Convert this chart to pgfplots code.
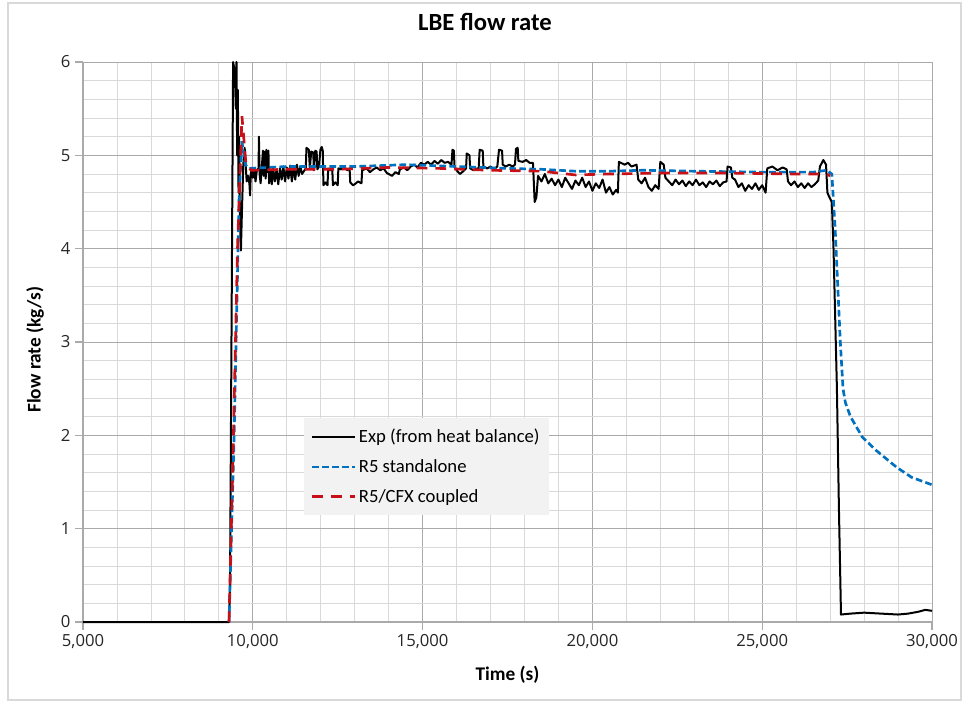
\documentclass[border=0pt]{standalone}
\usepackage{fontspec}
\setmainfont{Carlito}
\newfontfamily\tickfont{Open Sans}
\usepackage{pgfplots}
\pgfplotsset{compat=1.18}
\definecolor{r5blue}{RGB}{0,112,192}
\definecolor{cfxred}{RGB}{200,16,24}
\definecolor{majgrid}{RGB}{170,170,170}
\definecolor{mingrid}{RGB}{217,217,217}
\definecolor{legfill}{RGB}{242,242,242}
\begin{document}
\begin{tikzpicture}
\begin{axis}[
  scale only axis, width=636.75pt, height=420pt,
  xmin=5000, xmax=30000, ymin=0, ymax=6,
  xtick={5000,10000,15000,20000,25000,30000},
  ytick={0,1,2,3,4,5,6},
  minor x tick num=4, minor y tick num=4,
  grid=both,
  major grid style={majgrid, line width=0.6pt},
  minor grid style={mingrid, line width=0.6pt},
  axis x line*=bottom, axis y line*=left,
  axis line style={majgrid, line width=0.8pt, -},
  tick align=outside,
  major tick length=6pt, minor tick length=0pt,
  tick style={majgrid, line width=0.8pt},
  scaled x ticks=false,
  /pgf/number format/.cd, 1000 sep={,}, assume math mode=true,
  /pgfplots/.cd,
  ticklabel style={font=\tickfont\fontsize{12.5}{15}\selectfont, text=black!85},
  xlabel={Time (s)}, ylabel={Flow rate (kg/s)},
  label style={font=\bfseries\fontsize{14.5}{17}\selectfont},
  xlabel style={at={(axis description cs:0.5,-0.0946)}, anchor=center},
  ylabel style={at={(axis description cs:-0.0565,0.486)}, anchor=center, rotate=0},
  title={LBE flow rate},
  title style={font=\bfseries\fontsize{18.5}{21}\selectfont, at={(axis description cs:0.4735,1.057)}, anchor=center},
  clip=false,
  legend cell align=left,
  legend style={at={(axis description cs:0.2603,0.364)}, anchor=north west,
    fill=legfill, draw=none, font=\fontsize{14}{17}\selectfont,
    inner xsep=5pt, inner ysep=6pt, row sep=7pt},
]
\addplot[black, line width=1.5pt, line join=round,
  legend image code/.code={\draw[black, line width=0.9pt] (0pt,0pt) -- (32pt,0pt);}] coordinates {
(5000,0) (9300,0) (9330,0.4) (9420,6.0) (9470,5.9) (9500,5.5) (9520,6.0) (9540,5.0) (9560,5.7)
(9580,4.6) (9600,5.2) (9620,4.3) (9650,3.98) (9680,4.4) (9720,4.9) (9760,5.08) (9790,4.9)
(9820,4.72) (9860,4.78) (9900,4.7) (9920,4.57) (9940,4.8) (9960,4.85) (10000,4.76) (10040,4.86)
(10080,4.72) (10120,4.84) (10170,4.86) (10180,5.2) (10200,4.8) (10230,4.7) (10260,4.85)
(10300,5.05) (10320,4.78) (10350,5.04) (10380,4.75) (10400,5.06) (10430,4.82) (10460,5.05)
(10480,4.7) (10520,4.84) (10560,4.69) (10600,4.86) (10650,4.72) (10700,4.85) (10750,4.69)
(10800,4.86) (10850,4.74) (10900,4.88) (10950,4.72) (11000,4.87) (11050,4.75) (11100,4.89)
(11150,4.72) (11200,4.87) (11250,4.74) (11300,4.9) (11350,4.78) (11400,4.88) (11450,4.8)
(11560,4.86) (11580,5.08) (11650,5.06) (11680,4.86) (11720,5.04) (11780,5.03) (11800,4.84)
(11840,5.05) (11880,5.04) (11900,4.85) (11950,4.88) (11990,5.06) (12030,5.09) (12060,5.05)
(12080,4.68) (12140,4.71) (12200,4.68) (12220,4.86) (12280,4.84) (12340,4.85) (12360,4.68) (12430,4.71) (12500,4.68) (12520,4.86)
(12600,4.85) (12700,4.87) (12780,4.84) (12850,4.86) (12870,4.71) (12950,4.68) (13000,4.69) (13100,4.72) (13200,4.7) (13220,4.84) (13350,4.86)
(13450,4.82) (13550,4.85) (13650,4.87) (13750,4.84) (13850,4.86) (13950,4.81) (14000,4.8)
(14100,4.78) (14200,4.82) (14300,4.8) (14330,4.85) (14450,4.87) (14550,4.84) (14650,4.88)
(14750,4.9) (14850,4.87) (14950,4.92) (15050,4.9) (15150,4.93) (15250,4.9) (15350,4.94)
(15450,4.91) (15550,4.95) (15650,4.92) (15750,4.93) (15850,4.9) (15880,5.06) (15920,5.05)
(15940,4.88) (16000,4.84) (16100,4.8) (16200,4.83) (16280,4.86) (16300,5.02) (16380,5.0)
(16400,4.86) (16500,4.84) (16600,4.86) (16650,4.85) (16680,5.06) (16770,5.05) (16790,4.88)
(16900,4.86) (17000,4.88) (17100,4.85) (17200,4.88) (17250,5.06) (17340,5.05) (17360,4.9)
(17450,4.88) (17550,4.9) (17650,4.88) (17720,4.9) (17750,5.07) (17800,5.08) (17820,4.94)
(17950,4.93) (18050,4.95) (18150,4.92) (18250,4.92) (18300,4.5) (18350,4.55) (18400,4.78)
(18500,4.72) (18600,4.8) (18700,4.7) (18800,4.75) (18900,4.68) (19000,4.74) (19100,4.66)
(19200,4.76) (19300,4.7) (19400,4.64) (19500,4.73) (19600,4.68) (19700,4.76) (19800,4.66)
(19900,4.72) (20000,4.62) (20100,4.7) (20200,4.65) (20300,4.74) (20400,4.6) (20500,4.66)
(20600,4.58) (20700,4.63) (20750,4.6) (20780,4.93) (20950,4.9) (21050,4.92) (21150,4.88)
(21300,4.9) (21350,4.74) (21450,4.7) (21550,4.76) (21650,4.66) (21750,4.62) (21850,4.68)
(21950,4.64) (22000,4.93) (22100,4.9) (22150,4.76) (22250,4.72) (22350,4.68) (22450,4.74)
(22550,4.69) (22650,4.73) (22750,4.67) (22850,4.72) (22950,4.68) (23050,4.74) (23150,4.68)
(23250,4.71) (23350,4.66) (23450,4.72) (23550,4.69) (23650,4.73) (23750,4.67) (23850,4.71)
(23950,4.72) (23980,4.88) (24080,4.87) (24120,4.76) (24200,4.74) (24300,4.66) (24400,4.7)
(24500,4.62) (24600,4.68) (24700,4.64) (24800,4.7) (24900,4.63) (25000,4.68) (25100,4.6)
(25150,4.86) (25300,4.88) (25450,4.84) (25600,4.87) (25720,4.85) (25760,4.72) (25850,4.68)
(25950,4.72) (26050,4.66) (26150,4.7) (26250,4.65) (26350,4.7) (26450,4.66) (26550,4.69)
(26650,4.73) (26700,4.88) (26800,4.95) (26880,4.9) (26920,4.6) (26980,4.55) (27050,4.5)
(27100,4.0) (27200,2.5) (27260,1.2) (27320,0.08) (27600,0.09) (28000,0.1) (28500,0.09)
(29000,0.08) (29300,0.09) (29600,0.11) (29800,0.13) (30000,0.12)
};
\addlegendentry{Exp (from heat balance)}
\addplot[r5blue, line width=2pt, dash pattern=on 5pt off 2.5pt,
  legend image code/.code={\draw[r5blue, line width=2pt, dash pattern=on 5pt off 2.5pt] (0pt,0pt) -- (32pt,0pt);}] coordinates {
(9300,0) (9450,2.0) (9600,4.6) (9680,5.15) (9780,4.9) (9900,4.86) (11000,4.88)
(13000,4.88) (14500,4.9) (16000,4.88) (17500,4.86) (18500,4.85) (19500,4.83) (20500,4.83)
(21500,4.84) (23000,4.83) (25000,4.82) (26500,4.82) (26900,4.84) (27050,4.8) (27150,4.2)
(27300,3.0) (27380,2.5) (27450,2.35) (27600,2.2) (27950,1.98) (28350,1.84) (28950,1.66)
(29400,1.55) (30000,1.47)
};
\addlegendentry{R5 standalone}
\addplot[cfxred, line width=2pt, dash pattern=on 8pt off 6pt,
  legend image code/.code={\draw[cfxred, line width=2pt, dash pattern=on 8pt off 6pt] (0pt,0pt) -- (32pt,0pt);}] coordinates {
(9300,0) (9400,1.5) (9550,4.0) (9680,5.42) (9800,4.9) (9950,4.84) (11000,4.85)
(12500,4.85) (14000,4.87) (15500,4.86) (17000,4.84) (18500,4.83) (19500,4.79) (20500,4.8)
(22000,4.81) (24000,4.81) (26000,4.8) (26900,4.8) (27000,4.78)
};
\addlegendentry{R5/CFX coupled}
\end{axis}
\draw[mingrid, line width=0.8pt] (-56.25pt,-58.5pt) rectangle (658.5pt,464.25pt);
\pgfresetboundingbox
\useasboundingbox (-62.25pt,-61.5pt) rectangle (663.75pt,466.5pt);
\end{tikzpicture}
\end{document}
